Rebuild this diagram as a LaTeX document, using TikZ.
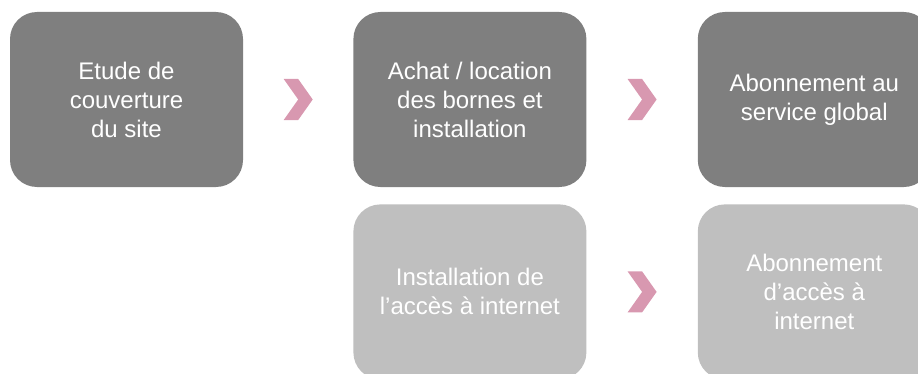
\documentclass[tikz,border=0pt]{standalone}
\usepackage{fontspec}
\setmainfont{Liberation Sans}
\usetikzlibrary{positioning,calc}
\definecolor{darkbox}{RGB}{127,127,127}
\definecolor{lightbox}{RGB}{191,191,191}
\definecolor{pinkmark}{RGB}{216,152,176}
\tikzset{stage/.style={rounded corners=27pt,minimum width=233pt,minimum height=175pt,
    align=center,text=white,font=\fontsize{24}{29}\selectfont,inner sep=0pt}}
\tikzset{mainstage/.style={stage,fill=darkbox}}
\tikzset{sidestage/.style={stage,fill=lightbox}}
\tikzset{chevron/.style={fill=pinkmark}}

\begin{document}
\begin{tikzpicture}[x=1pt,y=1pt]
  \useasboundingbox (0,0) rectangle (918,373);
  \clip (0,0) rectangle (918,373);
  % top row
  \node[mainstage] (etude) at (126.5,273.5) {Etude de\\couverture\\du site};
  \node[mainstage,right=110pt of etude] (achat) {Achat / location\\des bornes et\\installation};
  \node[mainstage,right=111pt of achat] (service) {Abonnement au\\service global};
  % bottom row
  \node[sidestage,below=17pt of achat] (acces) {Installation de\\l’accès à internet};
  \node[sidestage,below=17pt of service] (abonnet) {Abonnement\\d’accès à\\internet};
  % chevrons
  \foreach \a/\b in {etude/achat,achat/service,acces/abonnet}
    \fill[chevron] ($(\a.east)!0.5!(\b.west)$) ++(-14.5,20.5) -- ++(14.5,0)
      -- ++(14.5,-20.5) -- ++(-14.5,-20.5) -- ++(-14.5,0) -- ++(14.5,20.5) -- cycle;
\end{tikzpicture}
\end{document}
